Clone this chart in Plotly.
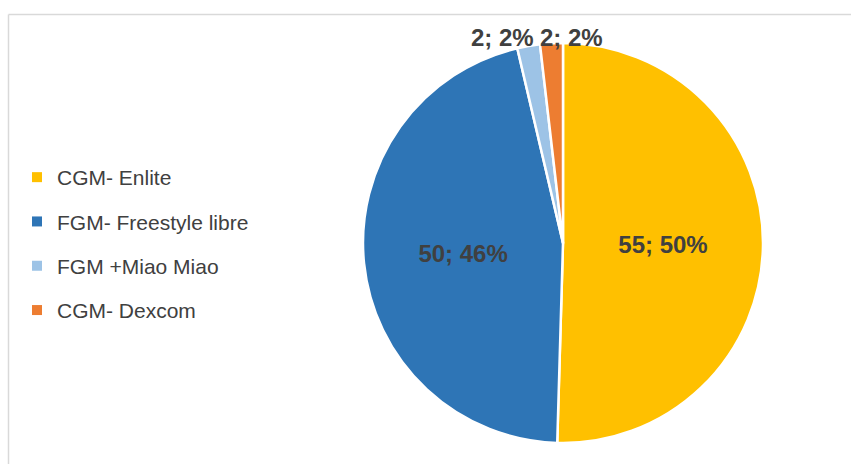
import plotly.graph_objects as go

labels = ["CGM- Enlite", "FGM- Freestyle libre", "FGM +Miao Miao", "CGM- Dexcom"]
values = [55, 50, 2, 2]
colors = ["#FFC000", "#2E75B6", "#9DC3E6", "#ED7D31"]
text_pos = ["inside", "inside", "none", "none"]

total = sum(values)
small_text = [f"{v}; {round(100 * v / total)}%" for v in values]

fig = go.Figure()
fig.add_trace(go.Pie(
    labels=labels, values=values, sort=False, direction="clockwise", rotation=0,
    marker=dict(colors=colors, line=dict(color="white", width=2.5)),
    texttemplate="%{value}; %{percent:.0%}", textposition=text_pos,
    insidetextorientation="horizontal",
    textfont=dict(family="Liberation Sans", size=24, color="#404040", weight="bold"),
    showlegend=False, hoverinfo="label+value+percent",
    domain=dict(x=[363/851, 763/851], y=[21/464, 421/464]),
))
for lab, col in zip(labels, colors):
    fig.add_trace(go.Scatter(x=[None], y=[None], mode="markers", name=lab,
                             legendgroup=lab,
                             marker=dict(symbol="square", size=10, color=col)))

annotations = [
    dict(text=small_text[2], x=503/851, y=(464-37)/464, xref="paper", yref="paper",
         showarrow=False, xanchor="center", yanchor="middle",
         font=dict(family="Liberation Sans", size=24, color="#404040", weight="bold")),
    dict(text=small_text[3], x=571/851, y=(464-37)/464, xref="paper", yref="paper",
         showarrow=False, xanchor="center", yanchor="middle",
         font=dict(family="Liberation Sans", size=24, color="#404040", weight="bold")),
]

fig.update_layout(
    width=851, height=464, margin=dict(l=0, r=0, t=0, b=0, autoexpand=False),
    paper_bgcolor="white", plot_bgcolor="white",
    xaxis=dict(visible=False), yaxis=dict(visible=False),
    legend=dict(x=17/851, xanchor="left", y=(464-244)/464, yanchor="middle",
                font=dict(family="Liberation Sans", size=21, color="#404040"),
                tracegroupgap=14, bgcolor="rgba(0,0,0,0)"),
    annotations=annotations,
    shapes=[
        dict(type="line", xref="paper", yref="paper", x0=8.5/851, x1=1,
             y0=(464-14.5)/464, y1=(464-14.5)/464, line=dict(color="#D9D9D9", width=1.5),
             layer="below"),
        dict(type="line", xref="paper", yref="paper", x0=8.5/851, x1=8.5/851,
             y0=0, y1=(464-14.5)/464, line=dict(color="#D9D9D9", width=1.5),
             layer="below"),
    ],
)
fig.write_html("out.html", config={"displayModeBar": False},
               post_script="document.body.style.margin='0';")
